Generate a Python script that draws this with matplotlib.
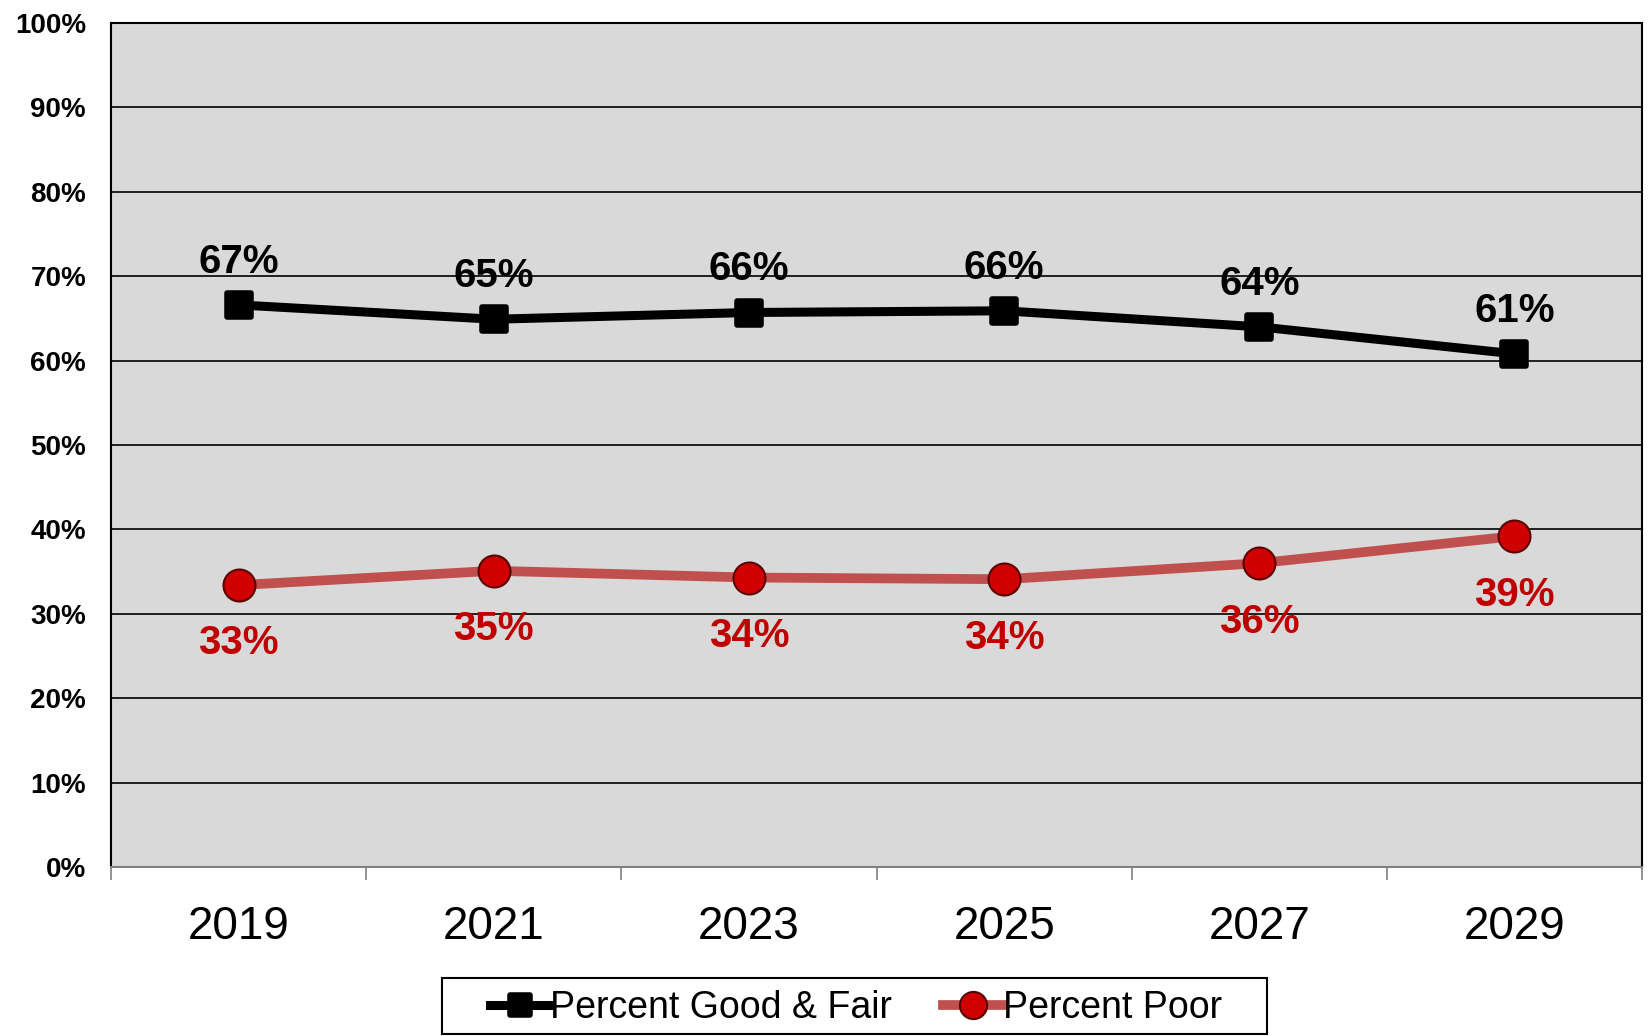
import matplotlib
matplotlib.use("Agg")
import matplotlib.pyplot as plt
from matplotlib.markers import MarkerStyle
from matplotlib.patches import Rectangle
from matplotlib.ticker import FixedLocator, PercentFormatter

plt.rcParams["font.family"] = ["Liberation Sans", "DejaVu Sans"]

years = ["2019", "2021", "2023", "2025", "2027", "2029"]
good_fair = [66.6, 64.9, 65.7, 65.9, 64.0, 60.8]
poor = [33.4, 35.1, 34.3, 34.1, 36.0, 39.2]

fig = plt.figure(figsize=(16.48, 10.36), dpi=100)
ax = fig.add_axes([0.0674, 0.1631, 0.929, 0.8147])
ax.set_facecolor("#d9d9d9")

x = list(range(len(years)))
sq = MarkerStyle("s", joinstyle="round")
ax.plot(x, good_fair, color="black", lw=6.5, marker=sq, ms=17,
        mfc="black", mec="black", mew=4, label="Percent Good & Fair", zorder=4)
ax.plot(x, poor, color="#c0504d", lw=7, marker="o", ms=23,
        mfc="#d00000", mec="#5a0000", mew=1.5, label="Percent Poor", zorder=4)

for xi, v in zip(x, good_fair):
    ax.annotate(f"{round(v)}%", (xi, v), xytext=(0, 31), textcoords="offset points",
                ha="center", va="center", fontsize=29, fontweight="bold",
                color="black", zorder=5)
for xi, v in zip(x, poor):
    ax.annotate(f"{round(v)}%", (xi, v), xytext=(0, -42), textcoords="offset points",
                ha="center", va="center", fontsize=29, fontweight="bold",
                color="#c00000", zorder=5)

ax.set_xlim(-0.5, len(years) - 0.5)
ax.set_ylim(0, 100)
ax.set_yticks(range(0, 101, 10))
ax.yaxis.set_major_formatter(PercentFormatter(decimals=0))
ax.yaxis.grid(True, color="black", lw=1.2)
ax.set_axisbelow(True)
ax.tick_params(axis="y", length=0, pad=18, labelsize=20)
for lab in ax.get_yticklabels():
    lab.set_fontweight("bold")

ax.set_xticks(x)
ax.set_xticklabels(years)
ax.xaxis.set_minor_locator(FixedLocator([i - 0.5 for i in range(len(years) + 1)]))
ax.tick_params(axis="x", which="major", length=0, pad=27, labelsize=33)
ax.tick_params(axis="x", which="minor", length=9, width=1.2, color="#808080")

for side in ("left", "top", "right"):
    ax.spines[side].set_color("black")
    ax.spines[side].set_linewidth(1.5)
ax.spines["bottom"].set_color("#808080")
ax.spines["bottom"].set_linewidth(1.5)

# legend entries without their own frame; box drawn separately (wider side padding)
leg = fig.legend(loc="center", bbox_to_anchor=(0.5195, 0.027), ncol=2,
                 fontsize=27, frameon=False, handlelength=1.6, markerscale=0.85,
                 handletextpad=0.0, columnspacing=1.35, borderaxespad=0)
fig.patches.append(Rectangle((0.2682, 0.0015), 0.5006, 0.0545,
                             transform=fig.transFigure, fill=False,
                             edgecolor="black", lw=1.5))

fig.savefig("out.png", dpi=100)
